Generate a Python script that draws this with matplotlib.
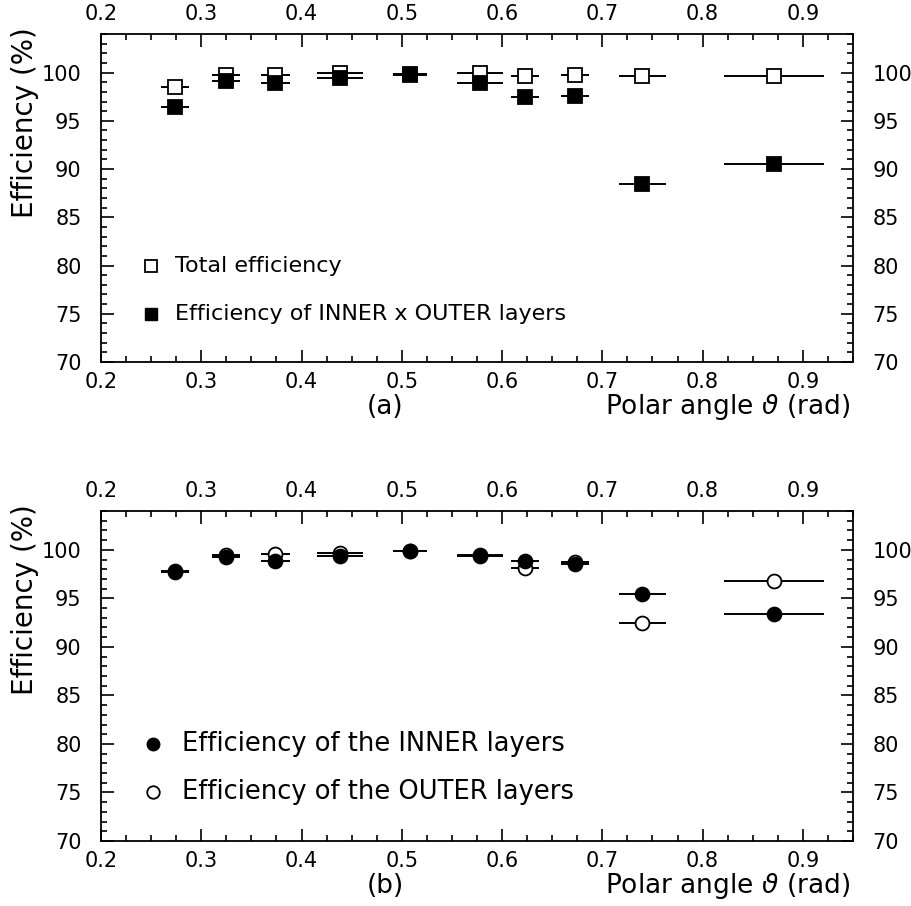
import matplotlib
matplotlib.use('Agg')
import matplotlib.pyplot as plt
from matplotlib.ticker import MultipleLocator

plt.rcParams['font.family'] = ['DejaVu Sans']
plt.rcParams['font.size'] = 15

# ----------------------------------------------------------------------
# data
# ----------------------------------------------------------------------
theta   = [0.274, 0.3245, 0.374, 0.4386, 0.508, 0.578, 0.623, 0.673, 0.740, 0.871]
dtheta  = [0.014, 0.014, 0.014, 0.023, 0.017, 0.023, 0.014, 0.014, 0.023, 0.050]

# panel (a)
eff_total = [98.55, 99.75, 99.7, 99.95, 99.88, 99.92, 99.65, 99.7, 99.6, 99.6]
eff_inout = [96.45, 99.1, 98.9, 99.4, 99.8, 98.95, 97.45, 97.6, 88.4, 90.55]

# panel (b)
eff_inner = [97.85, 99.3, 98.9, 99.4, 99.85, 99.4, 98.9, 98.55, 95.5, 93.35]
eff_outer = [97.7, 99.45, 99.6, 99.65, 99.9, 99.5, 98.15, 98.75, 92.45, 96.8]

xmin, xmax = 0.2, 0.95
ymin, ymax = 70, 104

# ----------------------------------------------------------------------
# figure
# ----------------------------------------------------------------------
W, H = 911, 906
fig = plt.figure(figsize=(W/100, H/100), dpi=100)
ax_a = fig.add_axes([101/W, 1-362/H, 752/W, 328/H])
ax_b = fig.add_axes([101/W, 1-841/H, 752/W, 330/H])


def style_axes(ax):
    ax.set_xlim(xmin, xmax)
    ax.set_ylim(ymin, ymax)
    ax.xaxis.set_major_locator(MultipleLocator(0.1))
    ax.xaxis.set_minor_locator(MultipleLocator(0.025))
    ax.yaxis.set_major_locator(MultipleLocator(5))
    ax.yaxis.set_minor_locator(MultipleLocator(1))
    ax.tick_params(which='both', direction='in', top=True, right=True,
                   labeltop=True, labelright=True, width=1.2, labelsize=15)
    ax.tick_params(which='major', length=9)
    ax.tick_params(which='minor', length=4.5)
    ax.tick_params(axis='x', which='major', pad=7)
    ax.tick_params(axis='y', which='major', pad=14)
    ax.xaxis.set_major_formatter(plt.FuncFormatter(lambda v, p: '%.1f' % v))
    for s in ax.spines.values():
        s.set_linewidth(1.3)
    ax.set_ylabel('Efficiency (%)', loc='top', fontsize=20)
    ax.yaxis.set_label_coords(-0.083, 1.021)


def draw_series(ax, y, marker, filled, ms, z):
    ax.errorbar(theta, y, xerr=dtheta, fmt=marker, ms=ms,
                mfc='black' if filled else 'white', mec='black', mew=1.3,
                ecolor='black', elinewidth=1.4, capsize=0, zorder=z)


# ----------------------------------------------------------------------
# (a)
# ----------------------------------------------------------------------
style_axes(ax_a)
draw_series(ax_a, eff_total, 's', False, 10, 3)
draw_series(ax_a, eff_inout, 's', True, 10, 4)

ax_a.plot([0.25], [80], 's', ms=8.5, mfc='white', mec='black', mew=1.3)
ax_a.plot([0.25], [75], 's', ms=8.5, mfc='black', mec='black')
ax_a.text(0.274, 80, 'Total efficiency', va='center', fontsize=16)
ax_a.text(0.274, 75, 'Efficiency of INNER x OUTER layers', va='center', fontsize=16)

ax_a.text(0.378, -0.137, '(a)', transform=ax_a.transAxes, ha='center', va='center', fontsize=19)
ax_a.text(0.996, -0.137, r'Polar angle $\vartheta$ (rad)', transform=ax_a.transAxes,
          ha='right', va='center', fontsize=19)

# ----------------------------------------------------------------------
# (b)
# ----------------------------------------------------------------------
style_axes(ax_b)
draw_series(ax_b, eff_outer, 'o', False, 10, 3)
draw_series(ax_b, eff_inner, 'o', True, 10, 4)

ax_b.plot([0.252], [80], 'o', ms=9, mfc='black', mec='black')
ax_b.plot([0.252], [75], 'o', ms=9, mfc='white', mec='black', mew=1.3)
ax_b.text(0.281, 80, 'Efficiency of the INNER layers', va='center', fontsize=18.5)
ax_b.text(0.281, 75, 'Efficiency of the OUTER layers', va='center', fontsize=18.5)

ax_b.text(0.378, -0.136, '(b)', transform=ax_b.transAxes, ha='center', va='center', fontsize=19)
ax_b.text(0.996, -0.136, r'Polar angle $\vartheta$ (rad)', transform=ax_b.transAxes,
          ha='right', va='center', fontsize=19)

fig.savefig('out.png', dpi=100)
